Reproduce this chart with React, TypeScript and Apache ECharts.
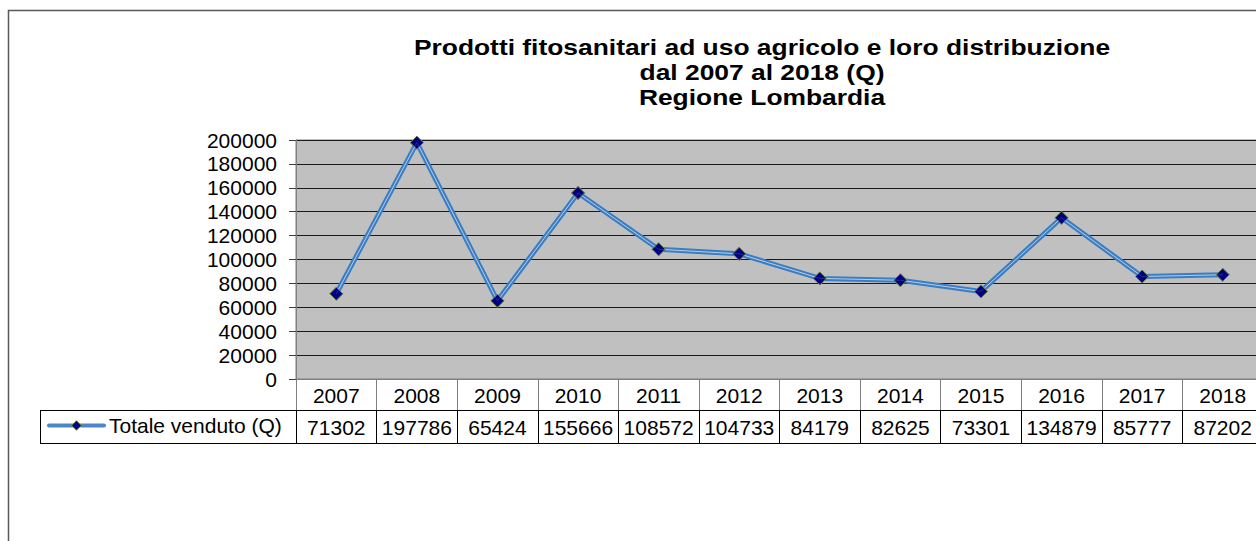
import React, { useEffect, useRef } from 'react';
import * as echarts from 'echarts';

const years = ['2007', '2008', '2009', '2010', '2011', '2012', '2013', '2014', '2015', '2016', '2017', '2018'];
const totaleVenduto = [71302, 197786, 65424, 155666, 108572, 104733, 84179, 82625, 73301, 134879, 85777, 87202];
const seriesName = 'Totale venduto (Q)';
const titleLines = [
  'Prodotti fitosanitari ad uso agricolo e loro distribuzione',
  'dal 2007 al 2018 (Q)',
  'Regione Lombardia',
];
const yMin = 0;
const yMax = 200000;
const yInterval = 20000;

const FONT = '"Liberation Sans", Arial, sans-serif';

export default function App() {
  const ref = useRef<HTMLDivElement>(null);

  useEffect(() => {
    if (!ref.current) return;
    const chart = echarts.init(ref.current, undefined, { renderer: 'svg' });
    const valueLabels = totaleVenduto.map((v) => String(v));
    chart.setOption({
      animation: false,
      backgroundColor: '#ffffff',
      textStyle: { fontFamily: FONT },
      grid: {
        left: 296,
        top: 140,
        right: 17,
        bottom: 162,
        show: true,
        backgroundColor: '#C0C0C0',
        borderColor: '#808080',
        borderWidth: 1,
      },
      legend: {
        data: [
          {
            name: seriesName,
            itemStyle: { color: '#000080', borderColor: '#6E8B3D', borderWidth: 1 },
          },
        ],
        left: 47,
        top: 415,
        padding: 0,
        itemWidth: 55,
        itemHeight: 12,
        textStyle: { fontSize: 21, color: '#000', fontFamily: FONT },
        lineStyle: { width: 4, color: '#4A86C8', cap: 'round' },
        selectedMode: false,
      },
      xAxis: [
        {
          type: 'category',
          data: years,
          position: 'bottom',
          boundaryGap: true,
          axisLine: { show: true, lineStyle: { color: '#808080', width: 1 } },
          axisTick: { show: true, interval: 0, length: 31, alignWithLabel: false, lineStyle: { color: '#808080' } },
          axisLabel: { interval: 0, fontSize: 21, color: '#000', margin: 6, fontFamily: FONT },
          splitLine: { show: false },
        },
        {
          type: 'category',
          data: valueLabels,
          position: 'bottom',
          offset: 31,
          boundaryGap: true,
          axisLine: { show: true, lineStyle: { color: '#000', width: 1 } },
          axisTick: { show: true, interval: 0, length: 33, alignWithLabel: false, lineStyle: { color: '#000' } },
          axisLabel: { interval: 0, fontSize: 21, color: '#000', margin: 7, fontFamily: FONT },
          splitLine: { show: false },
        },
      ],
      yAxis: {
        type: 'value',
        min: yMin,
        max: yMax,
        interval: yInterval,
        axisLine: { show: true, lineStyle: { color: '#808080' } },
        axisTick: { show: true, length: 7, lineStyle: { color: '#404040' } },
        axisLabel: { fontSize: 21, color: '#000', margin: 19, fontFamily: FONT, formatter: (v: number) => String(v) },
        splitLine: { show: true, lineStyle: { color: '#1a1a1a', width: 1 } },
      },
      series: [
        {
          name: seriesName,
          type: 'line',
          xAxisIndex: 0,
          data: totaleVenduto,
          z: 2,
          symbol: 'diamond',
          symbolSize: 13,
          lineStyle: { color: '#3A7DC2', width: 5 },
          itemStyle: { color: '#000080', borderColor: '#6E8B3D', borderWidth: 1 },
        },
        {
          name: 'overlay',
          type: 'line',
          xAxisIndex: 0,
          data: totaleVenduto,
          z: 3,
          silent: true,
          symbol: 'none',
          lineStyle: { color: '#B5CFEA', width: 1 },
        },
        {
          name: 'markers',
          type: 'scatter',
          xAxisIndex: 0,
          data: totaleVenduto,
          z: 4,
          silent: true,
          symbol: 'diamond',
          symbolSize: 13,
          itemStyle: { color: '#000080', borderColor: '#6E8B3D', borderWidth: 1 },
        },
      ],
      graphic: [
        {
          type: 'rect',
          silent: true,
          shape: { x: 8.5, y: 10.5, width: 3000, height: 3000 },
          style: { fill: 'none', stroke: '#595959', lineWidth: 1.5 },
          z: -10,
        },
        {
          type: 'text',
          x: 762,
          y: 35,
          scaleX: 1.2,
          style: {
            text: titleLines.join('\n'),
            fontSize: 22,
            fontWeight: 'bold',
            fontFamily: FONT,
            lineHeight: 25,
            textAlign: 'center',
            fill: '#000',
          },
        },
        {
          type: 'line',
          silent: true,
          shape: { x1: 40, y1: 410.5, x2: 296, y2: 410.5 },
          style: { stroke: '#000', lineWidth: 1 },
        },
        {
          type: 'line',
          silent: true,
          shape: { x1: 40, y1: 443.5, x2: 1280, y2: 443.5 },
          style: { stroke: '#000', lineWidth: 1 },
        },
        {
          type: 'line',
          silent: true,
          shape: { x1: 40.5, y1: 410, x2: 40.5, y2: 444 },
          style: { stroke: '#000', lineWidth: 1 },
        },
      ],
    });
    return () => chart.dispose();
  }, []);

  return (
    <div style={{ position: 'fixed', left: 0, top: 0, width: 1256, height: 541, overflow: 'hidden', background: '#fff' }}>
      <div ref={ref} style={{ width: 1280, height: 541 }} />
    </div>
  );
}
